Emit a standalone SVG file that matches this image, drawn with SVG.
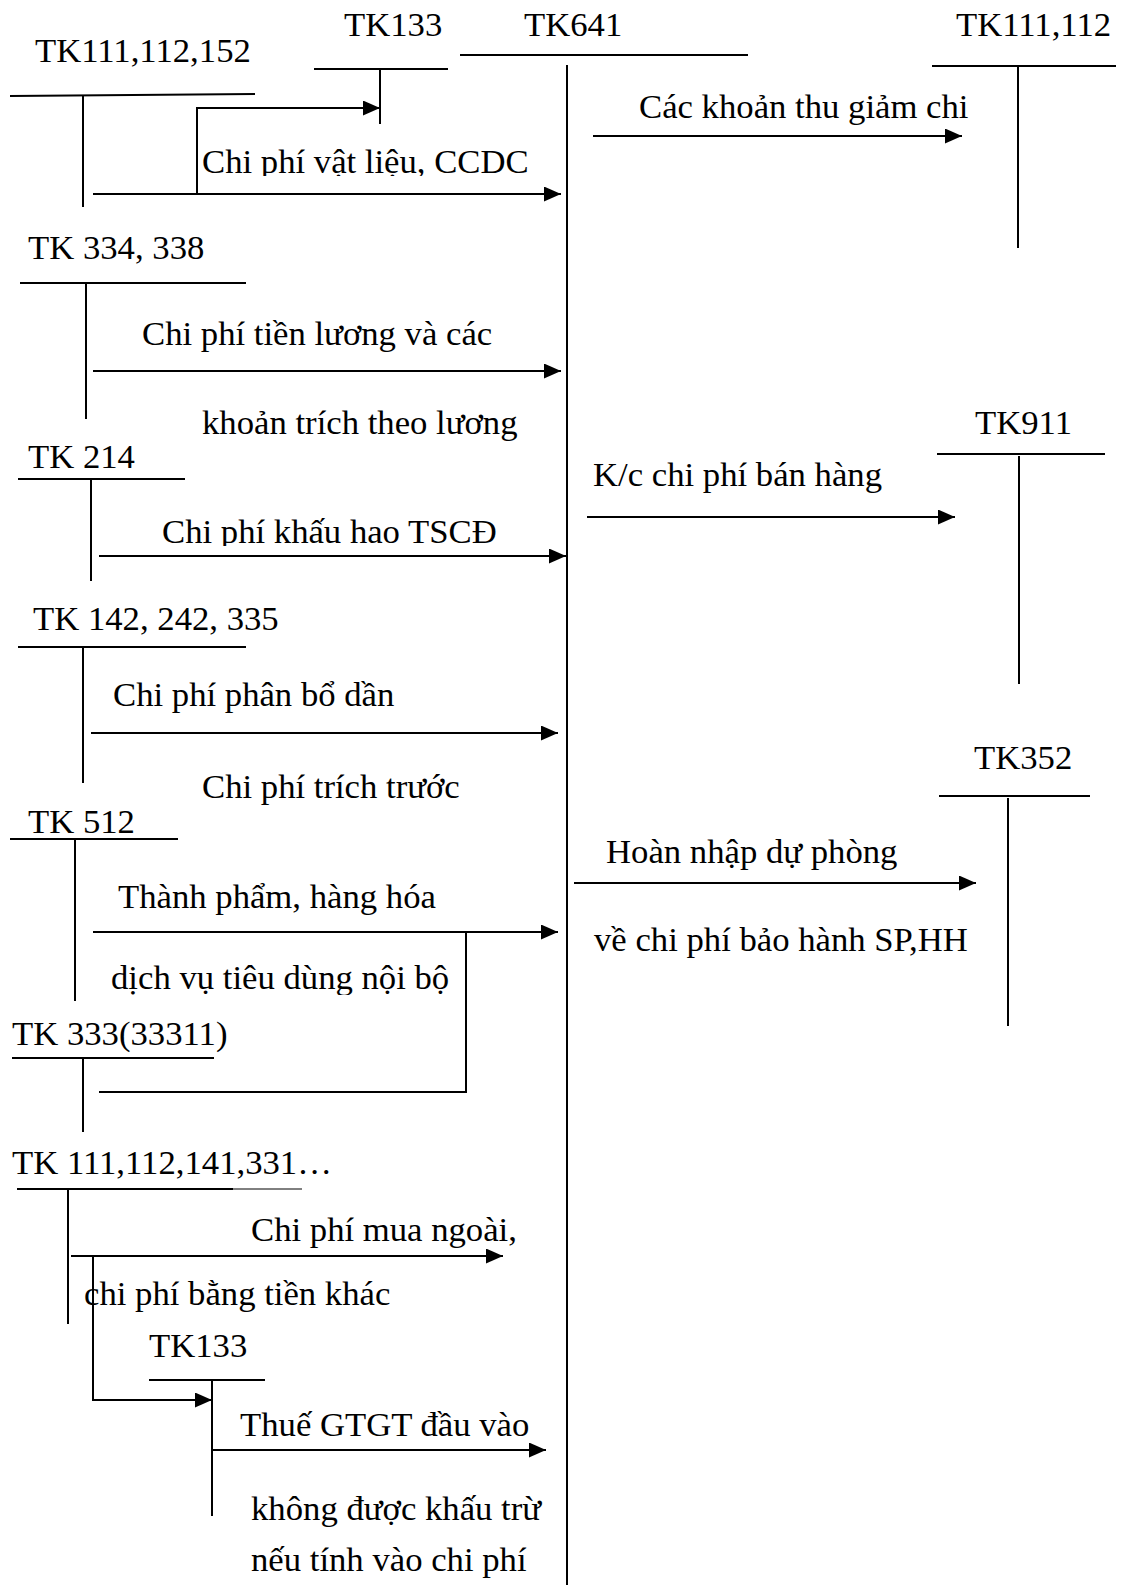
<svg xmlns="http://www.w3.org/2000/svg" width="1121" height="1585" viewBox="0 0 1121 1585">
<style>
text{font-family:"Liberation Serif","Times New Roman",serif;font-size:34.7px;fill:#000}
.ln{stroke:#000;stroke-width:2;fill:none}
.ar{stroke:#000;stroke-width:2;fill:none;marker-end:url(#ah)}
</style>
<defs>
<marker id="ah" markerUnits="userSpaceOnUse" markerWidth="17" markerHeight="15" refX="17" refY="7.5" orient="auto">
<path d="M0,0 L17,7.5 L0,15 z" fill="#000"/>
</marker>
<clipPath id="c1"><rect x="0" y="0" width="1121" height="176"/></clipPath>
<clipPath id="c2"><rect x="0" y="400" width="1121" height="146"/></clipPath>
<clipPath id="c3"><rect x="0" y="900" width="1121" height="95"/></clipPath>
</defs>
<rect width="1121" height="1585" fill="#fff"/>

<g id="tk111_112_152">
<text x="35" y="62">TK111,112,152</text>
<line class="ln" x1="10" y1="96" x2="255" y2="94"/>
<line class="ln" x1="83" y1="95" x2="83" y2="207"/>
</g>
<g id="tk133_top">
<text x="344" y="36">TK133</text>
<line class="ln" x1="314" y1="69" x2="448" y2="69"/>
<line class="ln" x1="380" y1="69" x2="380" y2="124"/>
</g>
<g id="tk641">
<text x="524" y="36">TK641</text>
<line class="ln" x1="460" y1="55" x2="748" y2="55"/>
<line class="ln" x1="567" y1="65" x2="567" y2="1585"/>
</g>
<g id="tk111_112">
<text x="956" y="36">TK111,112</text>
<line class="ln" x1="932" y1="66" x2="1116" y2="66"/>
<line class="ln" x1="1018" y1="66" x2="1018" y2="248"/>
</g>
<g id="tk334_338">
<text x="28" y="259">TK 334, 338</text>
<line class="ln" x1="20" y1="283" x2="246" y2="283"/>
<line class="ln" x1="86" y1="283" x2="86" y2="419"/>
</g>
<g id="tk214">
<text x="28" y="468">TK 214</text>
<line class="ln" x1="18" y1="479" x2="185" y2="479"/>
<line class="ln" x1="91" y1="479" x2="91" y2="581"/>
</g>
<g id="tk911">
<text x="975" y="434">TK911</text>
<line class="ln" x1="937" y1="454" x2="1105" y2="454"/>
<line class="ln" x1="1019" y1="456" x2="1019" y2="684"/>
</g>
<g id="tk142_242_335">
<text x="33" y="630">TK 142, 242, 335</text>
<line class="ln" x1="18" y1="647" x2="246" y2="647"/>
<line class="ln" x1="83" y1="647" x2="83" y2="783"/>
</g>
<g id="tk512">
<text x="28" y="833">TK 512</text>
<line class="ln" x1="10" y1="839" x2="178" y2="839"/>
<line class="ln" x1="75" y1="839" x2="75" y2="1001"/>
</g>
<g id="tk352">
<text x="974" y="769">TK352</text>
<line class="ln" x1="939" y1="796" x2="1090" y2="796"/>
<line class="ln" x1="1008" y1="798" x2="1008" y2="1026"/>
</g>
<g id="tk333_33311">
<text x="12" y="1045">TK 333(33311)</text>
<line class="ln" x1="12" y1="1058" x2="214" y2="1058"/>
<line class="ln" x1="83" y1="1058" x2="83" y2="1132"/>
</g>
<g id="tk111_112_141_331">
<text x="12" y="1174">TK 111,112,141,331…</text>
<line class="ln" x1="17" y1="1189" x2="233" y2="1189"/>
<line stroke="#000" stroke-width="1" x1="233" y1="1189" x2="302" y2="1189"/>
<line class="ln" x1="68" y1="1189" x2="68" y2="1324"/>
</g>
<g id="tk133_bottom">
<text x="149" y="1357">TK133</text>
<line class="ln" x1="149" y1="1380" x2="265" y2="1380"/>
<line class="ln" x1="212" y1="1380" x2="212" y2="1516"/>
</g>

<g id="connectors">
<polyline class="ar" points="197,194 197,108 380,108"/>
<line class="ar" x1="93" y1="194" x2="561" y2="194"/>
<line class="ar" x1="593" y1="136" x2="962" y2="136"/>
<line class="ar" x1="93" y1="371" x2="561" y2="371"/>
<line class="ar" x1="99" y1="556" x2="566" y2="556"/>
<line class="ar" x1="587" y1="517" x2="955" y2="517"/>
<line class="ar" x1="91" y1="733" x2="558" y2="733"/>
<line class="ar" x1="93" y1="932" x2="558" y2="932"/>
<polyline class="ln" points="466,932 466,1092 99,1092"/>
<line class="ar" x1="574" y1="883" x2="976" y2="883"/>
<line class="ar" x1="71" y1="1256" x2="503" y2="1256"/>
<polyline class="ar" points="93,1256 93,1400 212,1400"/>
<line class="ar" x1="212" y1="1450" x2="546" y2="1450"/>
</g>

<g id="labels">
<text x="202" y="173" clip-path="url(#c1)">Chi phí vật liệu, CCDC</text>
<text x="639" y="118">Các khoản thu giảm chi</text>
<text x="142" y="345">Chi phí tiền lương và các</text>
<text x="202" y="434">khoản trích theo lương</text>
<text x="162" y="543" clip-path="url(#c2)">Chi phí khấu hao TSCĐ</text>
<text x="593" y="486">K/c chi phí bán hàng</text>
<text x="113" y="706">Chi phí phân bổ dần</text>
<text x="202" y="798">Chi phí trích trước</text>
<text x="118" y="908">Thành phẩm, hàng hóa</text>
<text x="111" y="989" clip-path="url(#c3)">dịch vụ tiêu dùng nội bộ</text>
<text x="606" y="863">Hoàn nhập dự phòng</text>
<text x="594" y="951">về chi phí bảo hành SP,HH</text>
<text x="251" y="1241">Chi phí mua ngoài,</text>
<text x="84" y="1305">chi phí bằng tiền khác</text>
<text x="240" y="1436">Thuế GTGT đầu vào</text>
<text x="251" y="1520">không được khấu trừ</text>
<text x="251" y="1571">nếu tính vào chi phí</text>
</g>
</svg>
